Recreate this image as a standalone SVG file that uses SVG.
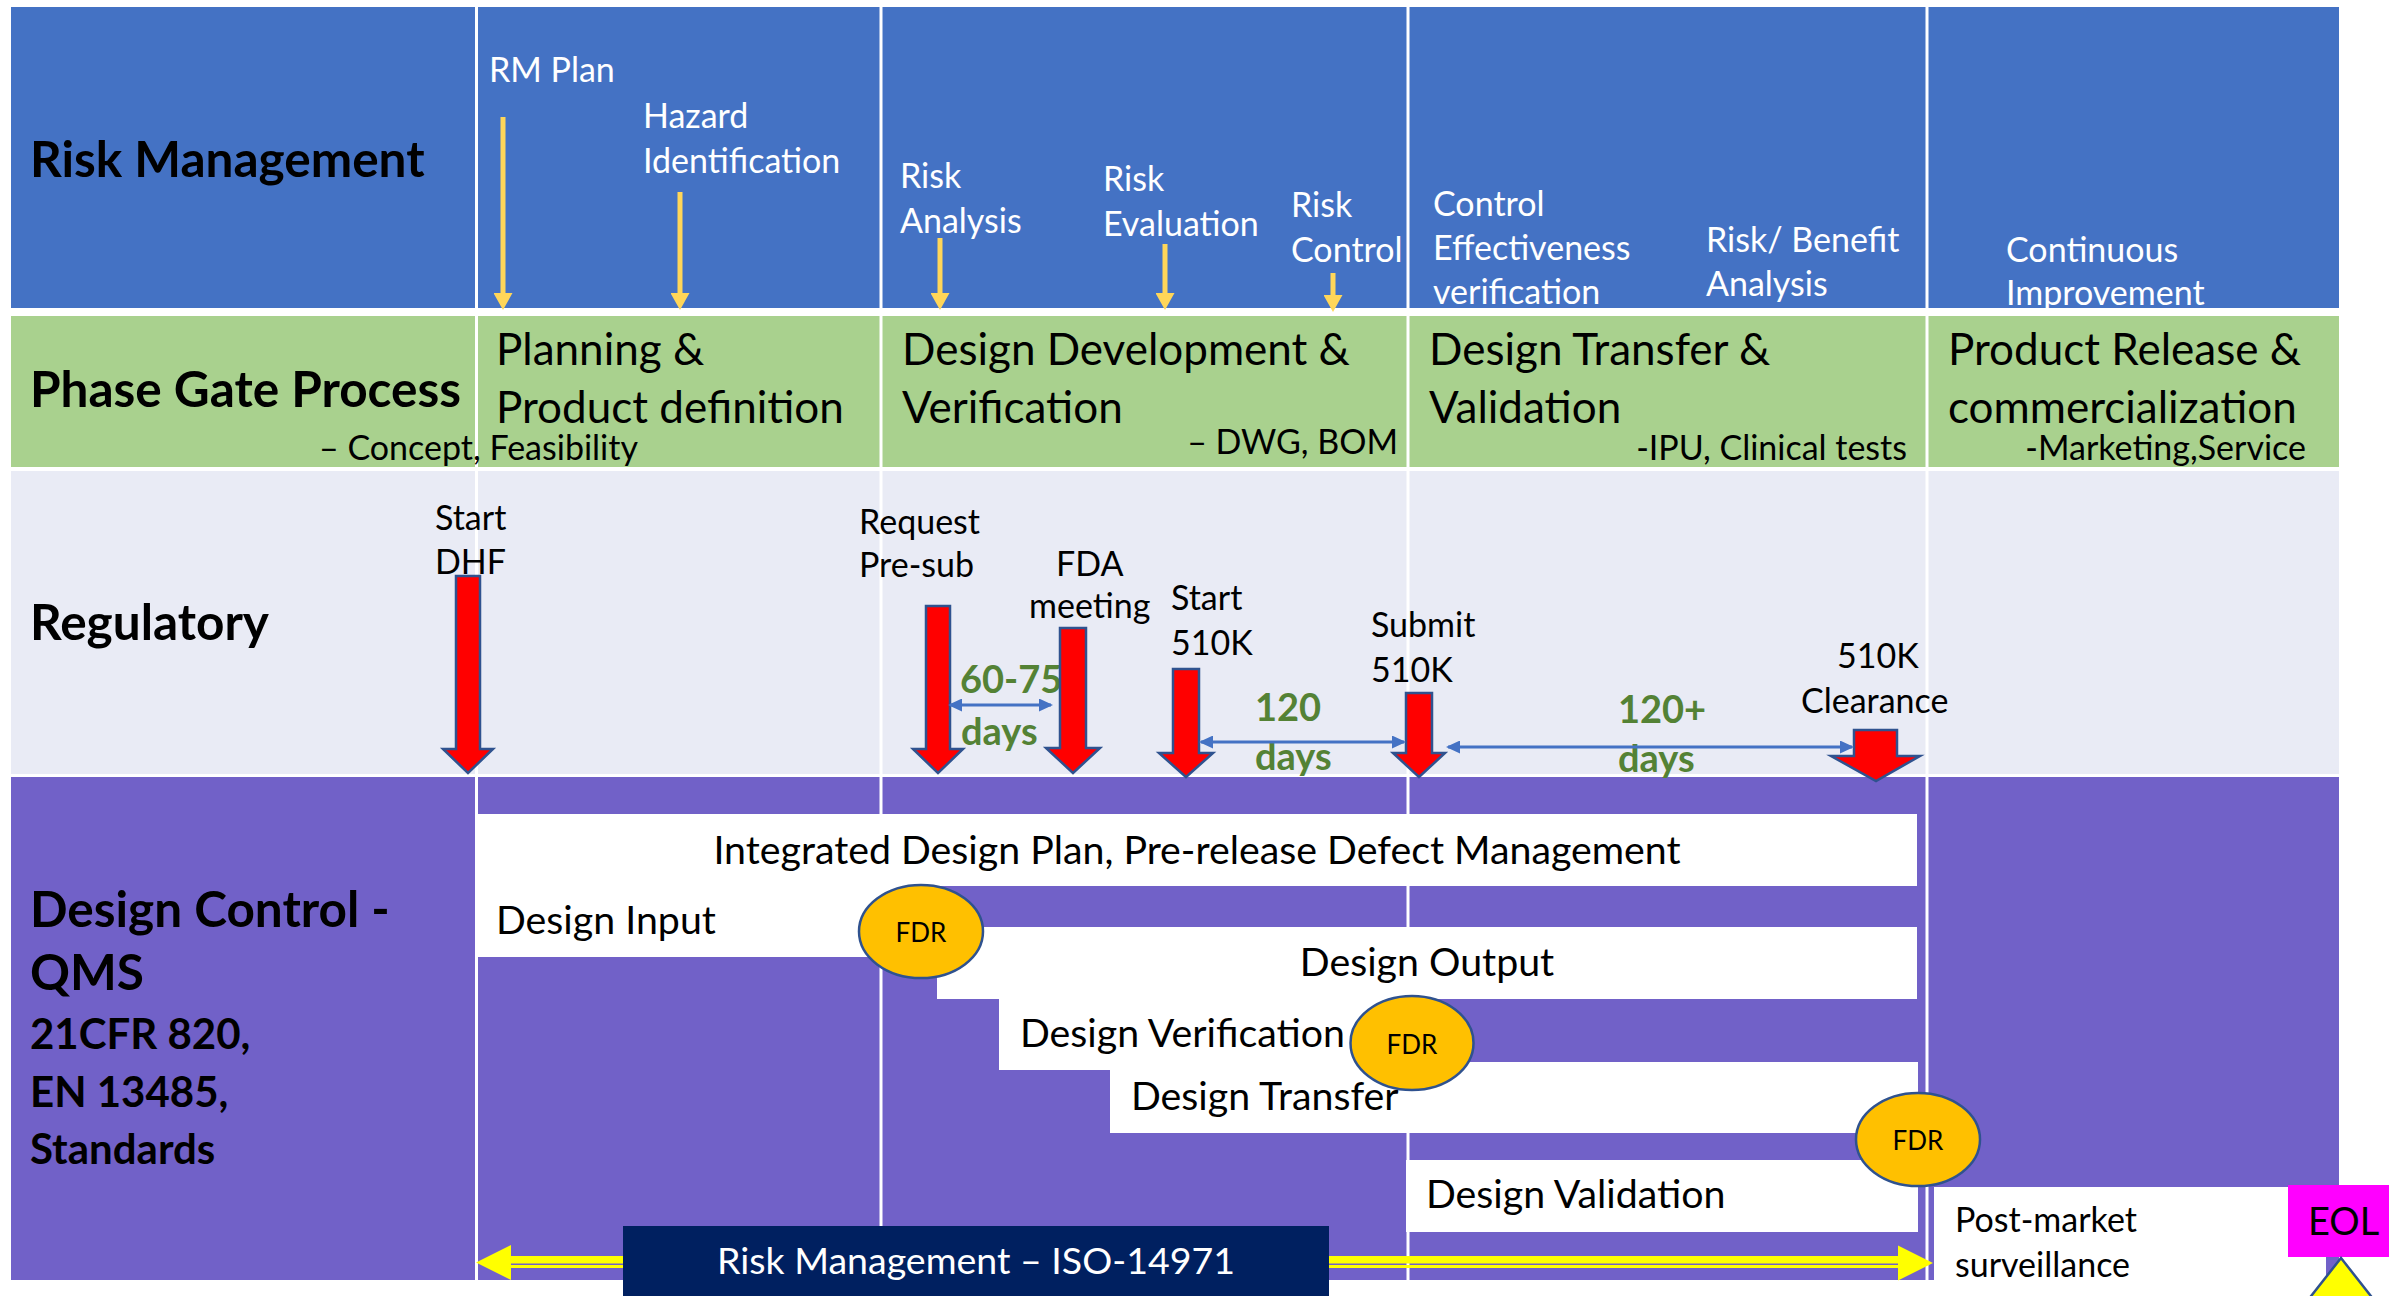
<svg xmlns="http://www.w3.org/2000/svg" width="2389" height="1296" viewBox="0 0 2389 1296">
<style>
text{font-family:Lato,"Liberation Sans",sans-serif}
.hdr{font-size:49.5px;font-weight:bold;fill:#000}
.hdr2{font-size:42px;font-weight:bold;fill:#000}
.wl{font-size:34px;fill:#fff}
.ph{font-size:44px;fill:#000}
.sub{font-size:34px;fill:#000}
.rg{font-size:34px;fill:#000}
.gd{font-size:38px;font-weight:bold;fill:#548235}
.bar{fill:#fff}
.bt{font-size:39.3px;fill:#000}
.fdr{fill:#FFC000;stroke:#2F528F;stroke-width:2.5}
.ft{font-size:26px;fill:#000;text-anchor:middle}
.div{stroke:#fff;stroke-width:3}
.ya{stroke:#FFD659;stroke-width:5;fill:none}
.ba{stroke:#4472C4;stroke-width:3;fill:none}
.ra{fill:#FF0000;stroke:#2F528F;stroke-width:2.5;stroke-linejoin:miter}
.yy{fill:#FFFF00}
</style>
<defs>
<marker id="yhead" markerUnits="userSpaceOnUse" viewBox="0 0 17 19" refX="2" refY="9.5" markerWidth="17" markerHeight="19" orient="auto">
<path d="M0,0 L17,9.5 L0,19 Z" fill="#FFD659"/>
</marker>
<marker id="bhead" markerUnits="userSpaceOnUse" viewBox="0 0 14 13" refX="12" refY="6.5" markerWidth="14" markerHeight="13" orient="auto-start-reverse">
<path d="M0,0 L14,6.5 L0,13 Z" fill="#4472C4"/>
</marker>
<clipPath id="blueclip"><rect x="11" y="7" width="2328" height="301"/></clipPath>
</defs>
<rect width="2389" height="1296" fill="#fff"/>
<g id="bands">
<rect x="11" y="7" width="2328" height="301" fill="#4472C4"/>
<rect x="11" y="316" width="2328" height="151" fill="#A9D18E"/>
<rect x="11" y="471" width="2328" height="303" fill="#E9EBF5"/>
<rect x="11" y="777" width="2328" height="503" fill="#7161C8"/>
<line class="div" x1="476.5" y1="7" x2="476.5" y2="1280"/>
<line class="div" x1="881" y1="7" x2="881" y2="1280"/>
<line class="div" x1="1408" y1="7" x2="1408" y2="1280"/>
<line class="div" x1="1927" y1="7" x2="1927" y2="1280"/>
</g>
<g id="row-labels">
<g id="lbl-risk"><text class="hdr" x="30" y="177">Risk Management</text></g>
<g id="lbl-phase"><text class="hdr" x="30" y="407">Phase Gate Process</text></g>
<g id="lbl-reg"><text class="hdr" x="30" y="640">Regulatory</text></g>
<g id="lbl-dc"><text class="hdr" x="30" y="927">Design Control -</text><text class="hdr" x="30" y="990">QMS</text><text class="hdr2" x="30" y="1049">21CFR 820,</text><text class="hdr2" x="30" y="1107">EN 13485,</text><text class="hdr2" x="30" y="1164">Standards</text></g>
</g>
<g id="risk-items" clip-path="url(#blueclip)">
<g id="rm-plan"><text class="wl" x="489" y="82">RM Plan</text></g>
<g id="hazard"><text class="wl" x="643" y="128">Hazard</text><text class="wl" x="643" y="173">Identification</text></g>
<g id="risk-analysis"><text class="wl" x="900" y="188">Risk</text><text class="wl" x="900" y="233">Analysis</text></g>
<g id="risk-eval"><text class="wl" x="1103" y="191">Risk</text><text class="wl" x="1103" y="236">Evaluation</text></g>
<g id="risk-control"><text class="wl" x="1291" y="217">Risk</text><text class="wl" x="1291" y="262">Control</text></g>
<g id="control-eff"><text class="wl" x="1433" y="216">Control</text><text class="wl" x="1433" y="260">Effectiveness</text><text class="wl" x="1433" y="304">verification</text></g>
<g id="risk-benefit"><text class="wl" x="1706" y="252">Risk/ Benefit</text><text class="wl" x="1706" y="296">Analysis</text></g>
<g id="cont-impr"><text class="wl" x="2006" y="262">Continuous</text><text class="wl" x="2006" y="305">Improvement</text></g>
</g>
<g id="phases">
<g id="ph-plan"><text class="ph" x="496" y="365">Planning &amp;</text><text class="ph" x="496" y="423">Product definition</text><text class="sub" x="638" y="460" text-anchor="end">– Concept, Feasibility</text></g>
<g id="ph-dev"><text class="ph" x="902" y="365">Design Development &amp;</text><text class="ph" x="902" y="423">Verification</text><text class="sub" x="1398" y="454" text-anchor="end">– DWG, BOM</text></g>
<g id="ph-transfer"><text class="ph" x="1429" y="365">Design Transfer &amp;</text><text class="ph" x="1429" y="423">Validation</text><text class="sub" x="1907" y="460" text-anchor="end">-IPU, Clinical tests</text></g>
<g id="ph-release"><text class="ph" x="1948" y="365">Product Release &amp;</text><text class="ph" x="1948" y="423">commercialization</text><text class="sub" x="2306" y="460" text-anchor="end">-Marketing,Service</text></g>
</g>
<g id="regulatory">
<g id="reg-dhf"><text class="rg" x="435" y="530">Start</text><text class="rg" x="435" y="574">DHF</text></g>
<g id="reg-presub"><text class="rg" x="859" y="534">Request</text><text class="rg" x="859" y="577">Pre-sub</text></g>
<g id="reg-fda"><text class="rg" x="1056" y="576">FDA</text><text class="rg" x="1029" y="618">meeting</text></g>
<g id="reg-start510"><text class="rg" x="1171" y="610">Start</text><text class="rg" x="1171" y="655">510K</text></g>
<g id="reg-submit"><text class="rg" x="1371" y="637">Submit</text><text class="rg" x="1371" y="682">510K</text></g>
<g id="reg-clear"><text class="rg" x="1837" y="668">510K</text><text class="rg" x="1801" y="713">Clearance</text></g>
<g id="d6075"><text class="gd" x="960" y="693">60-75</text><text class="gd" x="961" y="745">days</text></g>
<g id="d120"><text class="gd" x="1255" y="721">120</text><text class="gd" x="1255" y="770">days</text></g>
<g id="d120p"><text class="gd" x="1618" y="723">120+</text><text class="gd" x="1618" y="772">days</text></g>
</g>
<g id="connectors">
<line class="ya" x1="503" y1="117" x2="503" y2="295" marker-end="url(#yhead)"/>
<line class="ya" x1="680" y1="192" x2="680" y2="295" marker-end="url(#yhead)"/>
<line class="ya" x1="940" y1="238" x2="940" y2="295" marker-end="url(#yhead)"/>
<line class="ya" x1="1165" y1="244" x2="1165" y2="295" marker-end="url(#yhead)"/>
<line class="ya" x1="1333" y1="273" x2="1333" y2="297" marker-end="url(#yhead)"/>
<path class="ra" d="M456,576 H480 V749 H493 L468,773 L443,749 H456 Z"/>
<path class="ra" d="M926,606 H950 V749 H963 L938,773 L913,749 H926 Z"/>
<path class="ra" d="M1060,628 H1086 V748 H1100 L1073,773 L1046,748 H1060 Z"/>
<path class="ra" d="M1173,669 H1199 V753 H1213 L1186,777 L1159,753 H1173 Z"/>
<path class="ra" d="M1406,693 H1432 V753 H1445 L1419,777 L1393,753 H1406 Z"/>
<path class="ra" d="M1854,730 H1897 V756 H1920 L1876,781 L1831,756 H1854 Z"/>
<line class="ba" x1="950" y1="705" x2="1051" y2="705" marker-start="url(#bhead)" marker-end="url(#bhead)"/>
<line class="ba" x1="1201" y1="742" x2="1404" y2="742" marker-start="url(#bhead)" marker-end="url(#bhead)"/>
<line class="ba" x1="1448" y1="747" x2="1852" y2="747" marker-start="url(#bhead)" marker-end="url(#bhead)"/>
<g id="rm-iso-arrow">
<rect class="yy" x="505" y="1256" width="1398" height="7.5"/>
<rect class="yy" x="505" y="1265" width="1398" height="3"/>
<path class="yy" d="M476,1262.5 L511,1245 L511,1280 Z"/>
<path class="yy" d="M1933,1263 L1898,1245.5 L1898,1280.5 Z"/>
</g>
</g>
<g id="design-control">
<g id="bar-idp"><rect class="bar" x="477" y="814" width="1440" height="72"/><text class="bt" x="1197" y="864" text-anchor="middle">Integrated Design Plan, Pre-release Defect Management</text></g>
<g id="bar-input"><rect class="bar" x="477" y="886" width="444" height="71"/><text class="bt" x="496" y="934">Design Input</text></g>
<g id="bar-output"><rect class="bar" x="937" y="927" width="980" height="72"/><text class="bt" x="1427" y="976" text-anchor="middle">Design Output</text></g>
<g id="bar-verif"><rect class="bar" x="999" y="999" width="413" height="71"/><text class="bt" x="1020" y="1047">Design Verification</text></g>
<g id="bar-transfer"><rect class="bar" x="1110" y="1062" width="808" height="71"/><text class="bt" x="1131" y="1110">Design Transfer</text></g>
<g id="bar-valid"><rect class="bar" x="1406" y="1160" width="512" height="72"/><text class="bt" x="1426" y="1208">Design Validation</text></g>
<g id="fdr1"><ellipse class="fdr" cx="921" cy="931.5" rx="62" ry="46.5"/><text class="ft" x="921" y="942">FDR</text></g>
<g id="fdr2"><ellipse class="fdr" cx="1412" cy="1043" rx="61.5" ry="47"/><text class="ft" x="1412" y="1054">FDR</text></g>
<g id="fdr3"><ellipse class="fdr" cx="1918" cy="1139.5" rx="62" ry="46.5"/><text class="ft" x="1918" y="1150">FDR</text></g>
<g id="post-market"><rect class="bar" x="1934" y="1187" width="392" height="93"/><text class="sub" x="1955" y="1232">Post-market</text><text class="sub" x="1955" y="1277">surveillance</text></g>
<g id="eol"><rect x="2288" y="1185" width="101" height="72" fill="#FF00FF"/><text x="2308" y="1235" style="font-size:38px;fill:#000">EOL</text><path d="M2341,1258 L2308,1300 L2374,1300 Z" fill="#FFFF00" stroke="#2F528F" stroke-width="2.5"/></g>
<g id="rm-iso"><rect x="623" y="1226" width="706" height="72" fill="#002060"/><text x="976" y="1274" text-anchor="middle" style="font-size:37.5px;fill:#fff">Risk Management – ISO-14971</text></g>
</g>
</svg>
